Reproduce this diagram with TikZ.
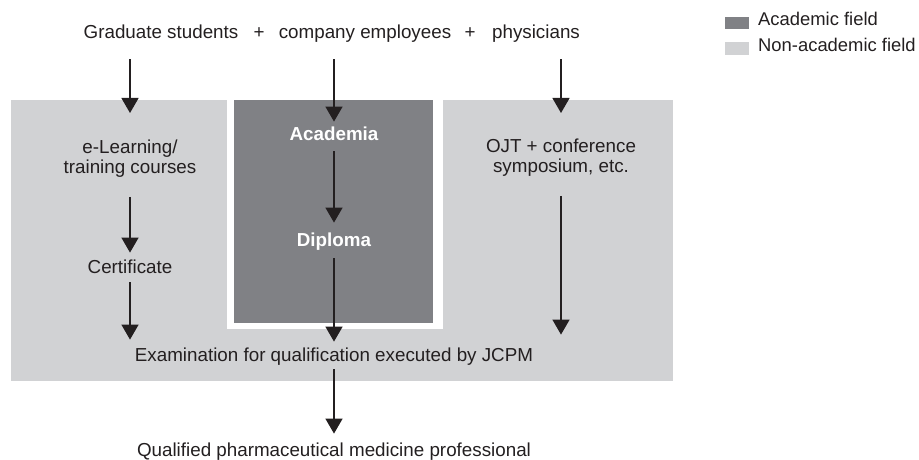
\documentclass[tikz,border=0pt]{standalone}
\usepackage{fontspec}
\setmainfont{Liberation Sans}
\usepackage{xcolor}
\usetikzlibrary{arrows.meta}
\definecolor{nonacad}{RGB}{209,210,212}
\definecolor{acad}{RGB}{128,129,133}
\definecolor{ink}{RGB}{35,31,32}

\tikzset{
    lbl/.style={inner sep=0pt,text height=0.72em,text depth=0pt,text=ink,font=\fontsize{18.8}{20}\selectfont},
    two/.style={inner sep=0pt,align=center,text=ink,font=\fontsize{18.8}{20}\selectfont},
    arr/.style={-{Triangle[width=17pt,length=15pt]},line width=1.4pt,draw=ink}
}

\begin{document}
\begin{tikzpicture}[x=1pt,y=-1pt]
    \useasboundingbox (0,0) rectangle (919,460);
    % fields
    \fill[nonacad] (11,100) rectangle (673,381);
    \fill[white] (227,100) rectangle (443,329);
    \fill[acad] (234,100) rectangle (433,323);
    % legend
    \fill[acad] (725,17) rectangle (749,29);
    \fill[nonacad] (725,42) rectangle (749,55);
    \node[lbl,anchor=base west,font=\fontsize{18.4}{20}\selectfont] (leg1) at (758,26) {Academic field};
    \node[lbl,anchor=base west,font=\fontsize{18.4}{20}\selectfont] (leg2) at (758,52) {Non-academic field};
    % top row
    \node[lbl,anchor=base] (grad) at (161,39) {Graduate students};
    \node[lbl,anchor=base] (plus1) at (259,39) {+};
    \node[lbl,anchor=base] (comp) at (365,39) {company employees};
    \node[lbl,anchor=base] (plus2) at (470,39) {+};
    \node[lbl,anchor=base] (phys) at (536,39) {physicians};
    % columns
    \node[two,anchor=north] (elearn) at (130,140) {e-Learning/\\training courses};
    \node[lbl,anchor=base] (cert) at (130,273) {Certificate};
    \node[lbl,anchor=base,text=white,font=\fontsize{18.8}{20}\selectfont\bfseries] (acadm) at (334,140) {Academia};
    \node[lbl,anchor=base,text=white,font=\fontsize{18.8}{20}\selectfont\bfseries] (dipl) at (334,246) {Diploma};
    \node[two,anchor=north] (ojt) at (561,139) {OJT + conference\\symposium, etc.};
    \node[lbl,anchor=base] (exam) at (334,361) {Examination for qualification executed by JCPM};
    \node[lbl,anchor=base] (qual) at (334,456) {Qualified pharmaceutical medicine professional};
    % arrows
    \draw[arr,shorten <=20pt,shorten >=27pt] (grad.south -| elearn.north) to (elearn.north);
    \draw[arr,shorten <=20pt,shorten >=11pt] (comp.south -| acadm.north) to (acadm.north);
    \draw[arr,shorten <=20pt,shorten >=26pt] (phys.south -| ojt.north) to (ojt.north);
    \draw[arr,shorten <=19pt,shorten >=13pt] (elearn.south) to (cert.north);
    \draw[arr,shorten <=9pt,shorten >=14pt] (cert.south) to (exam.north -| cert.south);
    \draw[arr,shorten <=11pt,shorten >=16pt] (acadm.south) to (dipl.north);
    \draw[arr,shorten <=12pt,shorten >=12pt] (dipl.south) to (exam.north);
    \draw[arr,shorten <=19pt,shorten >=19pt] (ojt.south) to (exam.north -| ojt.south);
    \draw[arr,shorten <=8pt,shorten >=15pt] (exam.south) to (qual.north);
\end{tikzpicture}
\end{document}
